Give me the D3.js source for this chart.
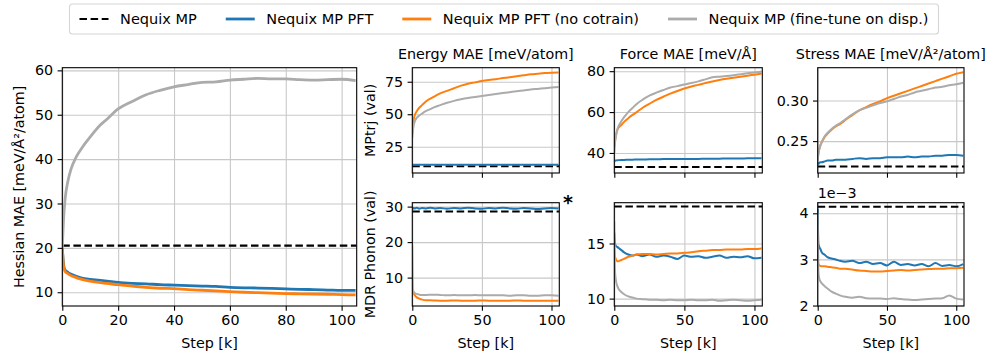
<!DOCTYPE html>
<html>
<head>
<meta charset="utf-8">
<script src="https://cdn.jsdelivr.net/npm/d3@7"></script>
<style>
  body { margin: 0; background: #fff; }
  svg text { font-family: "DejaVu Sans", sans-serif; fill: #000; }
</style>
</head>
<body>
<svg id="chart" width="997" height="361"></svg>
<script>
// sample points (k steps) shared by every curve
var STEPS = [0, 0.5, 1, 2, 3, 5, 7, 10, 13, 16, 20, 25, 30, 35, 40, 45, 50, 55, 60, 65, 70, 75, 80, 85, 90, 95, 100, 105];

var SERIES_NAMES = ["Nequix MP", "Nequix MP PFT", "Nequix MP PFT (no cotrain)", "Nequix MP (fine-tune on disp.)"];
var SERIES_COLORS = ["#000000", "#1f77b4", "#ff7f0e", "#ababab"];

// Hessian MAE
var hessBase = 20.5;
var hessPFT = [20, 16, 15, 14.5, 14.1, 13.6, 13.2, 12.9, 12.7, 12.5, 12.2, 12, 11.9, 11.7, 11.6, 11.5, 11.4, 11.3, 11.1, 11.0, 10.95, 10.85, 10.75, 10.65, 10.6, 10.5, 10.4, 10.4];
var hessNoCo = [20, 15.5, 14.7, 14.2, 13.8, 13.3, 12.9, 12.5, 12.2, 12.0, 11.7, 11.4, 11.1, 10.9, 10.8, 10.6, 10.45, 10.3, 10.15, 10.0, 9.9, 9.8, 9.7, 9.65, 9.6, 9.55, 9.45, 9.4];
var hessDisp = [20, 27, 31, 35, 37.5, 40.5, 42.5, 45, 47.3, 49, 51.3, 53, 54.5, 55.5, 56.3, 56.8, 57.3, 57.4, 57.8, 58, 58.2, 58.1, 58.1, 57.9, 57.8, 57.9, 58, 57.7];

// Energy MAE, MPtrj
var enTrjBase = 9.9;
var enTrjPFT = [11.2, 11.2, 11.2, 11.2, 11.2, 11.2, 11.2, 11.2, 11.2, 11.2, 11.2, 11.2, 11.2, 11.2, 11.2, 11.2, 11.2, 11.2, 11.2, 11.2, 11.2, 11.2, 11.2, 11.2, 11.2, 11.2, 11.2, 11.2];
var enTrjNoCo = [35, 42, 46, 50, 52, 55, 57, 60, 62, 63.8, 66, 68, 70, 72, 73.5, 74.5, 75.5, 76.3, 77, 77.8, 78.5, 79.3, 80, 80.7, 81.2, 81.7, 82, 82.2];
var enTrjDisp = [32, 38, 41.5, 45, 47, 49, 50.5, 52.5, 54, 55.5, 57, 58.8, 60.3, 61.5, 62.5, 63.3, 64, 64.8, 65.5, 66.3, 67, 67.7, 68.3, 69, 69.5, 70, 70.5, 71];

// Energy MAE, MDR phonon
var enPhBase = 28.6;
var enPhPFT = [29.8, 29.4, 29.6, 29.5, 29.7, 29.4, 29.6, 29.5, 29.7, 29.5, 29.6, 29.4, 29.6, 29.5, 29.7, 29.5, 29.4, 29.6, 29.5, 29.7, 29.5, 29.4, 29.6, 29.5, 29.3, 29.5, 29.6, 29.5];
var enPhNoCo = [6.3, 5.8, 5.5, 4.9, 4.5, 4.1, 3.8, 3.6, 3.6, 3.55, 3.5, 3.5, 3.55, 3.5, 3.5, 3.5, 3.55, 3.5, 3.5, 3.5, 3.5, 3.55, 3.5, 3.5, 3.5, 3.45, 3.5, 3.5];
var enPhDisp = [19, 6.5, 6.0, 5.6, 5.4, 5.2, 5.1, 5.1, 5.2, 5.2, 5.1, 5.0, 5.1, 5.0, 5.0, 5.1, 5.0, 5.0, 5.0, 5.0, 4.9, 5.0, 5.0, 4.9, 4.9, 5.0, 5.0, 4.9];

// Force MAE, MPtrj
var fTrjBase = 33.1;
var fTrjPFT = [36, 36.2, 36.3, 36.4, 36.5, 36.6, 36.6, 36.7, 36.7, 36.8, 36.8, 36.9, 36.9, 37, 37, 37, 37.1, 37.1, 37.1, 37.2, 37.2, 37.2, 37.3, 37.3, 37.3, 37.4, 37.4, 37.4];
var fTrjNoCo = [43, 46, 48, 51, 52.3, 53.7, 55.2, 57, 58.6, 60, 62, 64, 66, 67.5, 69, 70.3, 71.5, 72.5, 73.3, 74.2, 75, 75.7, 76.3, 76.8, 77.3, 77.8, 78.3, 78.8];
var fTrjDisp = [40, 45, 47.5, 51, 53, 55.5, 57.5, 60, 62, 64, 66, 68, 69.5, 70.8, 72, 72.7, 73.5, 74.2, 75, 76, 77, 77.3, 77.6, 78, 78.5, 79, 79.4, 79.8];

// Force MAE, MDR phonon
var fPhBase = 18.35;
var fPhPFT = [16, 15, 14.8, 14.7, 14.6, 14.4, 14.2, 14.0, 13.9, 14.0, 13.85, 14.0, 13.8, 13.9, 13.8, 13.6, 13.9, 13.8, 13.85, 13.7, 13.8, 13.9, 13.7, 13.8, 13.75, 13.85, 13.65, 13.7];
var fPhNoCo = [14.6, 13.8, 13.6, 13.4, 13.4, 13.5, 13.6, 13.8, 13.9, 14.0, 14.05, 14.05, 14.0, 14.05, 14.1, 14.1, 14.15, 14.2, 14.3, 14.35, 14.4, 14.4, 14.45, 14.45, 14.45, 14.5, 14.5, 14.55];
var fPhDisp = [17, 12.5, 11.8, 11.2, 10.9, 10.6, 10.4, 10.2, 10.1, 10.0, 9.95, 9.9, 9.9, 9.85, 9.9, 9.85, 9.85, 9.9, 9.85, 9.85, 9.9, 9.8, 9.85, 9.9, 9.85, 9.8, 9.85, 9.9];

// Stress MAE, MPtrj
var sTrjBase = 0.2186;
var sTrjPFT = [0.224, 0.222, 0.223, 0.224, 0.224, 0.225, 0.226, 0.226, 0.227, 0.227, 0.227, 0.228, 0.229, 0.228, 0.229, 0.229, 0.230, 0.230, 0.230, 0.231, 0.230, 0.231, 0.231, 0.232, 0.232, 0.233, 0.233, 0.232];
var sTrjNoCo = [0.229, 0.235, 0.239, 0.245, 0.249, 0.255, 0.259, 0.264, 0.268, 0.271, 0.276, 0.282, 0.288, 0.292, 0.296, 0.299, 0.303, 0.306, 0.309, 0.312, 0.315, 0.318, 0.321, 0.324, 0.327, 0.330, 0.333, 0.335];
var sTrjDisp = [0.225, 0.234, 0.239, 0.245, 0.249, 0.256, 0.260, 0.265, 0.269, 0.272, 0.277, 0.283, 0.288, 0.291, 0.294, 0.297, 0.299, 0.302, 0.305, 0.307, 0.310, 0.312, 0.314, 0.316, 0.317, 0.319, 0.320, 0.322];

// Stress MAE, MDR phonon (in units of 1e-3)
var sPhBase = 4.14;
var sPhPFT = [4.1, 3.35, 3.28, 3.22, 3.15, 3.1, 3.05, 3.02, 3.0, 2.97, 2.95, 2.97, 2.92, 2.95, 2.9, 2.92, 2.87, 2.95, 2.88, 2.9, 2.87, 2.9, 2.85, 2.92, 2.86, 2.88, 2.85, 2.9];
var sPhNoCo = [3.1, 2.9, 2.87, 2.86, 2.85, 2.85, 2.84, 2.83, 2.82, 2.8, 2.8, 2.78, 2.76, 2.75, 2.74, 2.74, 2.75, 2.76, 2.77, 2.76, 2.77, 2.78, 2.79, 2.8, 2.8, 2.81, 2.81, 2.82];
var sPhDisp = [4.0, 2.75, 2.6, 2.52, 2.48, 2.42, 2.37, 2.3, 2.26, 2.22, 2.19, 2.17, 2.19, 2.16, 2.15, 2.15, 2.14, 2.16, 2.14, 2.13, 2.12, 2.13, 2.14, 2.15, 2.16, 2.22, 2.15, 2.13];

var FS = 14.3;
var svg = d3.select("#chart");

var Panel = function(id, x0, x1, y0, y1, xmax, ydom, yticks, xticks) {
  this.id = id;
  this.x = d3.scaleLinear().domain([0, xmax]).range([x0, x1]);
  this.y = d3.scaleLinear().domain(ydom).range([y1, y0]);
  this.x0 = x0; this.x1 = x1; this.y0 = y0; this.y1 = y1;
  this.yticks = yticks;
  this.xticks = xticks;
}

Panel.prototype.draw = function(base, pft, noco, disp, opts) {
  var _this = this;
  var g = svg.append("g").attr("id", this.id);
  var w = this.x1 - this.x0, h = this.y1 - this.y0;

  g.append("clipPath").attr("id", "clip-" + this.id)
    .append("rect").attr("x", this.x0).attr("y", this.y0).attr("width", w).attr("height", h);

  // grid
  g.append("g").attr("transform", "translate(0," + this.y1 + ")")
    .call(d3.axisBottom(this.x).tickValues(this.xticks).tickSize(-h).tickFormat(""))
    .call(function(s) { s.select(".domain").remove(); s.selectAll("line").attr("stroke", "#c8c8c8").attr("stroke-width", 1.1); });
  g.append("g").attr("transform", "translate(" + this.x0 + ",0)")
    .call(d3.axisLeft(this.y).tickValues(this.yticks).tickSize(-w).tickFormat(""))
    .call(function(s) { s.select(".domain").remove(); s.selectAll("line").attr("stroke", "#c8c8c8").attr("stroke-width", 1.1); });

  var lines = g.append("g").attr("clip-path", "url(#clip-" + this.id + ")");
  var line = d3.line()
    .x(function(d, i) { return _this.x(STEPS[i]); })
    .y(function(d) { return _this.y(d); })
    .curve(d3.curveMonotoneX);

  lines.append("path")
    .attr("d", d3.line().x(function(d) { return _this.x(d); }).y(function() { return _this.y(base); })(this.x.domain()))
    .attr("fill", "none").attr("stroke", SERIES_COLORS[0])
    .attr("stroke-width", opts.dashW).attr("stroke-dasharray", "7.5,3.6");

  [[pft, 1], [noco, 2], [disp, 3]].forEach(function(s) {
    lines.append("path")
      .attr("d", line(s[0]))
      .attr("fill", "none")
      .attr("stroke", SERIES_COLORS[s[1]])
      .attr("stroke-width", opts.lw)
      .attr("stroke-linejoin", "round");
  });

  // spines
  g.append("rect").attr("x", this.x0).attr("y", this.y0).attr("width", w).attr("height", h)
    .attr("fill", "none").attr("stroke", "#000").attr("stroke-width", 1.1);

  // axes
  var ya = g.append("g").attr("transform", "translate(" + this.x0 + ",0)")
    .call(d3.axisLeft(this.y).tickValues(this.yticks).tickSize(4.7).tickPadding(4.5)
      .tickFormat(opts.yfmt || d3.format("d")));
  var xa = g.append("g").attr("transform", "translate(0," + this.y1 + ")")
    .call(d3.axisBottom(this.x).tickValues(this.xticks).tickSize(4.7).tickPadding(4.5)
      .tickFormat(opts.xlabels ? d3.format("d") : ""));
  [ya, xa].forEach(function(a) {
    a.select(".domain").remove();
    a.selectAll("line").attr("stroke", "#000").attr("stroke-width", 1.1);
    a.selectAll("text").attr("font-size", FS).attr("font-family", "DejaVu Sans").attr("fill", "#000");
  });

  if (opts.xlabels) {
    g.append("text").attr("x", (this.x0 + this.x1) / 2).attr("y", 348)
      .attr("text-anchor", "middle").attr("font-size", FS).text("Step [k]");
  }
  if (opts.title) {
    g.append("text").attr("x", (this.x0 + this.x1) / 2).attr("y", 59)
      .attr("text-anchor", "middle").attr("font-size", FS).text(opts.title);
  }
  if (opts.ylabel) {
    g.append("text")
      .attr("transform", "translate(" + opts.ylabelX + "," + (this.y0 + this.y1) / 2 + ") rotate(-90)")
      .attr("text-anchor", "middle").attr("font-size", FS).text(opts.ylabel);
  }
}

var TOP0 = 67.7, TOP1 = 173, BOT0 = 202.7, BOT1 = 306;
var XMAX = 105.6;
var kTicks = [0, 50, 100];

var hess = new Panel("hess", 62.3, 356.7, TOP0, BOT1, 105.4, [6.9, 60.6], [10, 20, 30, 40, 50, 60], [0, 20, 40, 60, 80, 100]);
hess.draw(hessBase, hessPFT, hessNoCo, hessDisp,
  { lw: 2.8, dashW: 2.2, xlabels: true, ylabel: "Hessian MAE [meV/Å²/atom]", ylabelX: 24 });

var enTrj = new Panel("enTrj", 412.3, 559.3, TOP0, TOP1, XMAX, [4.8, 85.8], [25, 50, 75], kTicks);
enTrj.draw(enTrjBase, enTrjPFT, enTrjNoCo, enTrjDisp,
  { lw: 2, dashW: 2, title: "Energy MAE [meV/atom]", ylabel: "MPtrj (val)", ylabelX: 375 });
var enPh = new Panel("enPh", 412.3, 559.3, BOT0, BOT1, XMAX, [2.0, 31.1], [10, 20, 30], kTicks);
enPh.draw(enPhBase, enPhPFT, enPhNoCo, enPhDisp,
  { lw: 2, dashW: 2, xlabels: true, ylabel: "MDR Phonon (val)", ylabelX: 375 });

var fTrj = new Panel("fTrj", 614.3, 762.3, TOP0, TOP1, XMAX, [30.2, 81.7], [40, 60, 80], kTicks);
fTrj.draw(fTrjBase, fTrjPFT, fTrjNoCo, fTrjDisp, { lw: 2, dashW: 2, title: "Force MAE [meV/Å]" });
var fPh = new Panel("fPh", 614.3, 762.3, BOT0, BOT1, XMAX, [9.33, 18.7], [10, 15], kTicks);
fPh.draw(fPhBase, fPhPFT, fPhNoCo, fPhDisp, { lw: 2, dashW: 2, xlabels: true });

var sTrj = new Panel("sTrj", 817.7, 964, TOP0, TOP1, XMAX, [0.2107, 0.3405], [0.25, 0.30], kTicks);
sTrj.draw(sTrjBase, sTrjPFT, sTrjNoCo, sTrjDisp,
  { lw: 2, dashW: 2, title: "Stress MAE [meV/Å²/atom]", yfmt: d3.format(".2f") });
var sPh = new Panel("sPh", 817.7, 964, BOT0, BOT1, XMAX, [1.99, 4.23], [2, 3, 4], kTicks);
sPh.draw(sPhBase, sPhPFT, sPhNoCo, sPhDisp, { lw: 2, dashW: 2, xlabels: true });
svg.append("text").attr("x", 817.7).attr("y", 198).attr("font-size", FS).text("1e\u22123");

// significance marker
svg.append("text").attr("x", 568).attr("y", 209).attr("text-anchor", "middle")
  .attr("font-size", 19).attr("font-weight", "bold").text("*");

// legend
var LFS = 14.5;
var leg = svg.append("g").attr("id", "legend");
var legBox = leg.append("rect");
var handle = 2 * LFS, gapText = 0.8 * LFS, colGap = 2 * LFS, pad = 10;
var cx = pad, legY = 19;
var items = leg.selectAll("g.item").data(SERIES_NAMES).enter().append("g").attr("class", "item");
items.each(function(d, i) {
  var it = d3.select(this);
  var t = it.append("text").attr("y", legY + 5).attr("font-size", LFS).text(d);
  var tw = t.node().getComputedTextLength();
  it.append("line").attr("x1", cx).attr("x2", cx + handle).attr("y1", legY).attr("y2", legY)
    .attr("stroke", SERIES_COLORS[i]).attr("stroke-width", i === 0 ? 2 : 2.8)
    .attr("stroke-dasharray", i === 0 ? "7.5,3.6" : null);
  t.attr("x", cx + handle + gapText);
  cx += handle + gapText + tw + colGap;
});
var legW = cx - colGap + pad;
var legX = 504 - legW / 2;
leg.attr("transform", "translate(" + legX + ",0)");
legBox.attr("x", 0).attr("y", 4).attr("width", legW).attr("height", 30).attr("rx", 3)
  .attr("fill", "#fff").attr("stroke", "#d6d6d6").attr("stroke-width", 1.1);
</script>
</body>
</html>
